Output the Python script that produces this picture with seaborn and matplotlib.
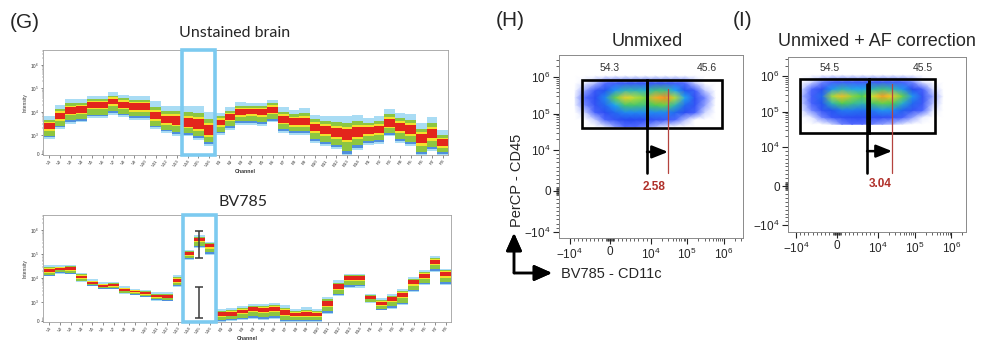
import numpy as np
import matplotlib
matplotlib.use('Agg')
import matplotlib.pyplot as plt
import matplotlib.colors as mcolors
import matplotlib.ticker as mticker
from matplotlib.patches import Rectangle
from matplotlib.transforms import blended_transform_factory
import seaborn as sns

sns.set_theme(style='white')
plt.rcParams['font.family'] = ['Liberation Sans', 'DejaVu Sans']
plt.rcParams['mathtext.fontset'] = 'custom'
plt.rcParams['mathtext.rm'] = 'Liberation Sans'
plt.rcParams['mathtext.it'] = 'Liberation Sans:italic'
plt.rcParams['mathtext.bf'] = 'Liberation Sans:bold'

W, H = 993, 352

# ---- spectra (panel G) ----
channels = [f'V{i}' for i in range(1, 17)] + [f'B{i}' for i in range(1, 15)] + [f'R{i}' for i in range(1, 9)]

unstained_mid = [2350, 6450, 11300, 12400, 20300, 20300, 28000, 20300, 16200, 16200, 6450, 4350, 3950, 3150, 2590, 1480,
                 3480, 6250, 9900, 10700, 10200, 12400, 4670, 3580, 3580, 2070, 1630, 1270, 1070, 1270,
                 1590, 1630, 3060, 2070, 1630, 766, 1070, 547]
unstained_high = [6450, 20300, 35500, 35500, 45700, 45700, 67800, 54100, 49000, 49000, 28000, 18400, 18400, 18400, 17200, 9500,
                  9000, 15600, 25400, 23900, 23900, 33100, 16200, 12400, 14700, 7600, 6900, 6450, 6450, 7600,
                  5500, 6450, 13300, 9000, 8400, 3370, 6080, 1630]
unstained_low = [804, 1870, 3150, 3580, 5500, 5500, 7600, 6080, 4670, 4670, 1870, 1270, 985, 946, 766, 400,
                 1070, 1750, 2860, 2860, 2590, 3580, 1270, 1070, 1070, 585, 437, 257, -148, 219,
                 492, 547, 946, 585, 400, -148, 126, -109]

bv785_mid = [21000, 24800, 24800, 11000, 6400, 4600, 4930, 3250, 2750, 2340, 1700, 1700, 8000, 112000, 410000, 236000,
             362, 362, 502, 632, 578, 664, 448, 324, 362, 324, 934, 4480, 10400, 11000,
             1590, 934, 1360, 2060, 6800, 13000, 51800, 15300]
bv785_high = [34100, 34100, 36500, 16800, 8800, 6600, 6600, 4480, 3580, 3250, 2500, 2500, 13000, 156000, 620000, 325000,
              632, 664, 756, 902, 864, 934, 810, 632, 718, 632, 1590, 8000, 15300, 15300,
              2210, 1440, 2210, 3580, 11000, 22500, 81500, 24800]
bv785_low = [11800, 15300, 14300, 6800, 4600, 3440, 3440, 2210, 1870, 1590, 1150, 1080, 4180, 55300, 189000, 96000,
             -60, -40, 38, 92, 38, 92, -92, -92, -92, -92, 362, 1700, 3940, 3940,
             934, 540, 632, 810, 2580, 4930, 17800, 4930]

# whiskers drawn on V15 of the BV785 spectrum
whisker_channel = 'V15'
whisker_low = [69000, 124]
whisker_high = [910000, 4180]

highlight = ['V14', 'V16']

# ---- flow plots (panels H, I) ----
cloud_x = [-8630, -6170, -3700, -1230, 1230, 3700, 6170, 8630, 13300, 24900, 46800, 87900, 165000, 310000, 583000]
cloud_y = [43600, 69000, 109000, 173000, 275000, 436000, 690000, 1090000]

density_unmixed = [
    [0, 0, 0, 0.03, 0.08, 0.12, 0.12, 0.1, 0.06, 0.03, 0, 0, 0, 0, 0],
    [0, 0, 0.05, 0.15, 0.3, 0.38, 0.38, 0.35, 0.3, 0.25, 0.15, 0.06, 0, 0, 0],
    [0, 0.05, 0.18, 0.35, 0.45, 0.5, 0.5, 0.5, 0.5, 0.5, 0.45, 0.35, 0.18, 0.04, 0],
    [0.02, 0.1, 0.3, 0.45, 0.55, 0.66, 0.66, 0.64, 0.68, 0.7, 0.6, 0.45, 0.3, 0.08, 0],
    [0.03, 0.12, 0.35, 0.5, 0.7, 0.84, 0.78, 0.72, 0.88, 0.92, 0.78, 0.55, 0.32, 0.1, 0.01],
    [0.01, 0.08, 0.25, 0.42, 0.52, 0.6, 0.6, 0.58, 0.64, 0.64, 0.55, 0.42, 0.22, 0.05, 0],
    [0, 0.02, 0.06, 0.12, 0.2, 0.25, 0.26, 0.26, 0.26, 0.25, 0.2, 0.12, 0.05, 0, 0],
    [0, 0, 0, 0, 0, 0, 0, 0, 0, 0, 0, 0, 0, 0, 0],
]
density_af = [
    [0, 0, 0, 0.04, 0.1, 0.12, 0.12, 0.1, 0.08, 0.06, 0.03, 0, 0, 0, 0],
    [0, 0.03, 0.1, 0.25, 0.32, 0.35, 0.35, 0.32, 0.32, 0.28, 0.18, 0.08, 0.02, 0, 0],
    [0.03, 0.1, 0.3, 0.42, 0.48, 0.48, 0.46, 0.48, 0.52, 0.5, 0.44, 0.3, 0.14, 0.03, 0],
    [0.05, 0.18, 0.42, 0.6, 0.68, 0.64, 0.6, 0.66, 0.7, 0.68, 0.58, 0.45, 0.25, 0.06, 0],
    [0.06, 0.2, 0.45, 0.76, 0.86, 0.74, 0.68, 0.8, 0.9, 0.84, 0.7, 0.52, 0.3, 0.08, 0.01],
    [0.04, 0.14, 0.35, 0.52, 0.6, 0.56, 0.55, 0.6, 0.64, 0.6, 0.52, 0.38, 0.18, 0.04, 0],
    [0, 0.04, 0.1, 0.18, 0.22, 0.22, 0.22, 0.24, 0.25, 0.22, 0.18, 0.1, 0.03, 0, 0],
    [0, 0, 0, 0, 0, 0, 0, 0, 0, 0, 0, 0, 0, 0, 0],
]

# gates: [left, split, right], [bottom, top]
gate_x_unmixed = [-6900, 9100, 906000]
gate_y_unmixed = [40700, 840000]
gate_x_af = [-9000, 7850, 360000]
gate_y_af = [24500, 830000]

pct_unmixed = ['54.3', '45.6']
pct_af = ['54.5', '45.5']
shift_unmixed = '2.58'
shift_af = '3.04'

# marker lines: black x, red x, y range, arrow y
marker_unmixed = dict(black=9100, red=30000, y=(4430, 470000), arrow=9600)
marker_af = dict(black=7360, red=24400, y=(3310, 600000), arrow=8900)

fig = plt.figure(figsize=(W / 100, H / 100), dpi=100)


def px_axes(left, top, right, bottom):
    return fig.add_axes([left / W, 1 - bottom / H, (right - left) / W, (bottom - top) / H])


def fx(x):
    return x / W


def fy(y):
    return 1 - y / H


band_layers = [('#a9dcf4', -1.0, 1.0),
               ('#4f8fdc', -0.88, -0.7),
               ('#8dc640', -0.74, 0.64),
               ('#f3e12b', -0.36, 0.44),
               ('#e3251c', -0.23, 0.32)]


def draw_spectrum(ax, mid, high, low):
    ax.set_yscale('symlog', linthresh=1e3, linscale=0.7)
    ax.set_ylim(-80, 4.4e6)
    ax.set_xlim(-0.6, 37.5)
    tr = ax.yaxis.get_transform()
    inv = tr.inverted()
    tm = tr.transform_non_affine(np.asarray(mid, float))
    th = tr.transform_non_affine(np.asarray(high, float))
    tl = tr.transform_non_affine(np.asarray(low, float))
    x = np.arange(len(channels))
    for col, f0, f1 in band_layers:
        e0 = tm + (f0 * (th - tm) if f0 > 0 else f0 * (tm - tl))
        e1 = tm + (f1 * (th - tm) if f1 > 0 else f1 * (tm - tl))
        b = inv.transform_non_affine(e0)
        t = inv.transform_non_affine(e1)
        ax.bar(x, t - b, bottom=b, width=1.0, color=col, linewidth=0)
    ax.set_xticks(x, channels, rotation=55, ha='right', rotation_mode='anchor', fontsize=3.2)
    ax.set_yticks([0, 1e3, 1e4, 1e5, 1e6], ['0', '$10^{3}$', '$10^{4}$', '$10^{5}$', '$10^{6}$'], fontsize=3.4)
    ax.yaxis.set_minor_locator(mticker.FixedLocator(
        [-50, 50, 100, 150] + [m * 10 ** k for k in (3, 4, 5, 6) for m in range(2, 10)]))
    ax.tick_params(axis='both', which='major', length=1.8, width=0.4, pad=1, colors='#333333', bottom=True, left=True)
    ax.tick_params(axis='y', which='minor', length=1.0, width=0.3, left=True, colors='#555555')
    ax.set_xlabel('Channel', fontsize=3.8, fontweight='bold', labelpad=1, color='#333333')
    ax.set_ylabel('Intensity', fontsize=3.6, labelpad=2, color='#333333')
    for s in ax.spines.values():
        s.set_color('#a0a0a0')
        s.set_linewidth(0.6)
    i0, i1 = channels.index(highlight[0]), channels.index(highlight[1])
    trans = blended_transform_factory(ax.transData, ax.transAxes)
    ax.add_patch(Rectangle((i0 - 0.55, 0.0), i1 - i0 + 1.15, 1.0, transform=trans, fill=False,
                           ec='#7ccaf0', lw=2.6, clip_on=False, zorder=5))


ax_g1 = px_axes(43, 50, 448, 155)
draw_spectrum(ax_g1, unstained_mid, unstained_high, unstained_low)
ax_g2 = px_axes(43, 215, 451, 322)
draw_spectrum(ax_g2, bv785_mid, bv785_high, bv785_low)
wx = channels.index(whisker_channel)
ax_g2.errorbar([wx, wx], whisker_low,
               yerr=[np.zeros(len(whisker_low)), np.subtract(whisker_high, whisker_low)],
               fmt='none', ecolor='#3a3a3a', elinewidth=1.1, capsize=2.8, capthick=1.1, zorder=6)

fig.text(fx(10), fy(22), '(G)', fontsize=15, va='center', ha='left')
fig.text(fx(235), fy(33), 'Unstained brain', fontsize=11.5, family=['Lato', 'DejaVu Sans'], ha='center', va='center')
fig.text(fx(243), fy(202), 'BV785', fontsize=11.5, family=['Lato', 'DejaVu Sans'], ha='center', va='center')

# ---- flow panels ----
flow_cmap = mcolors.LinearSegmentedColormap.from_list('flow', [
    (0.0, 'white'), (0.03, '#dfe5ff'), (0.12, '#5068ff'), (0.4, '#2448f0'), (0.55, '#20a8f0'),
    (0.68, '#50cc50'), (0.82, '#e6e62a'), (0.92, '#ff9020'), (1.0, '#e0201a')])

flow_major = [-1e4, 0, 1e4, 1e5, 1e6]
flow_labels = ['$-10^{4}$', '0', '$10^{4}$', '$10^{5}$', '$10^{6}$']
flow_minor = ([-9000 + 1000 * k for k in range(9)] + [1000 * k for k in range(1, 10)]
              + [-800, -600, -400, -200, 200, 400, 600, 800]
              + [m * 10 ** k for k in (4, 5) for m in range(2, 10)] + [2e6, 3e6])


def draw_flow(ax, xlim, ylim, density, gate_x, gate_y, pct, pct_pos, shift, shift_pos, marker):
    ax.set_xscale('symlog', linthresh=1e4, linscale=1)
    ax.set_yscale('symlog', linthresh=1e4, linscale=1)
    gx, gy = np.meshgrid(cloud_x, cloud_y)
    ax.pcolormesh(gx, gy, np.asarray(density), shading='gouraud', cmap=flow_cmap, vmin=0, vmax=1, zorder=1)
    ax.set_xlim(*xlim)
    ax.set_ylim(*ylim)
    ax.set_xticks(flow_major, flow_labels, fontsize=8.5)
    ax.set_yticks(flow_major, flow_labels, fontsize=8.5)
    ax.xaxis.set_minor_locator(mticker.FixedLocator(flow_minor))
    ax.yaxis.set_minor_locator(mticker.FixedLocator(flow_minor))
    ax.tick_params(axis='both', which='major', direction='out', length=4, width=0.8, color='#222222',
                   bottom=True, left=True, pad=2)
    ax.tick_params(axis='both', which='minor', direction='out', length=2, width=0.5, color='#222222',
                   bottom=True, left=True)
    for s in ax.spines.values():
        s.set_color('#8a8a8a')
        s.set_linewidth(0.7)
    for a, b in ((gate_x[0], gate_x[1]), (gate_x[1], gate_x[2])):
        ax.add_patch(Rectangle((a, gate_y[0]), b - a, gate_y[1] - gate_y[0], fill=False,
                               ec='black', lw=1.9, zorder=3))
    ax.plot([marker['black']] * 2, marker['y'], color='black', lw=1.9, zorder=4)
    ax.plot([marker['red']] * 2, marker['y'], color='#b5433e', lw=0.9, zorder=4)
    ax.annotate('', xy=(marker['red'], marker['arrow']), xytext=(marker['black'], marker['arrow']),
                arrowprops=dict(arrowstyle='-|>,head_length=0.8,head_width=0.32', lw=1.8, color='black',
                                shrinkA=0, shrinkB=0, mutation_scale=12), zorder=4)
    for t, (x, y) in zip(pct, pct_pos):
        ax.text(x, y, t, fontsize=7.5, color='#333333', ha='center', va='center')
    ax.text(shift_pos[0], shift_pos[1], shift, fontsize=8.5, color='#b0302a', fontweight='bold',
            ha='center', va='center')


ax_h = px_axes(559, 55, 743, 238)
draw_flow(ax_h, (-1.95e4, 3.4e6), (-1.49e4, 4.0e6), density_unmixed, gate_x_unmixed, gate_y_unmixed,
          pct_unmixed, [(0, 1.78e6), (3.5e5, 1.78e6)], shift_unmixed, (1.24e4, 983), marker_unmixed)
ax_i = px_axes(788, 57, 966, 232)
draw_flow(ax_i, (-1.67e4, 2.5e6), (-1.55e4, 3.5e6), density_af, gate_x_af, gate_y_af,
          pct_af, [(-1710, 1.7e6), (1.7e5, 1.7e6)], shift_af, (1.15e4, 510), marker_af)

fig.text(fx(496), fy(20), '(H)', fontsize=15, va='center', ha='left')
fig.text(fx(733), fy(20), '(I)', fontsize=15, va='center', ha='left')
fig.text(fx(647), fy(42), 'Unmixed', fontsize=13, ha='center', va='center')
fig.text(fx(877), fy(42), 'Unmixed + AF correction', fontsize=13, ha='center', va='center')

# axis legend arrows of panel H
for end in ((514, 233), (552, 273)):
    fig.add_artist(plt.annotate('', xy=(fx(end[0]), fy(end[1])), xytext=(fx(514), fy(273)),
                                xycoords='figure fraction', textcoords='figure fraction',
                                arrowprops=dict(arrowstyle='-|>,head_length=0.9,head_width=0.4', lw=1.8,
                                                color='black', shrinkA=0, shrinkB=0, mutation_scale=12)))
fig.text(fx(517), fy(180), 'PerCP - CD45', rotation=90, fontsize=10.5, ha='center', va='center')
fig.text(fx(561), fy(274), 'BV785 - CD11c', fontsize=10.5, ha='left', va='center')

fig.savefig('out.png', dpi=100)
